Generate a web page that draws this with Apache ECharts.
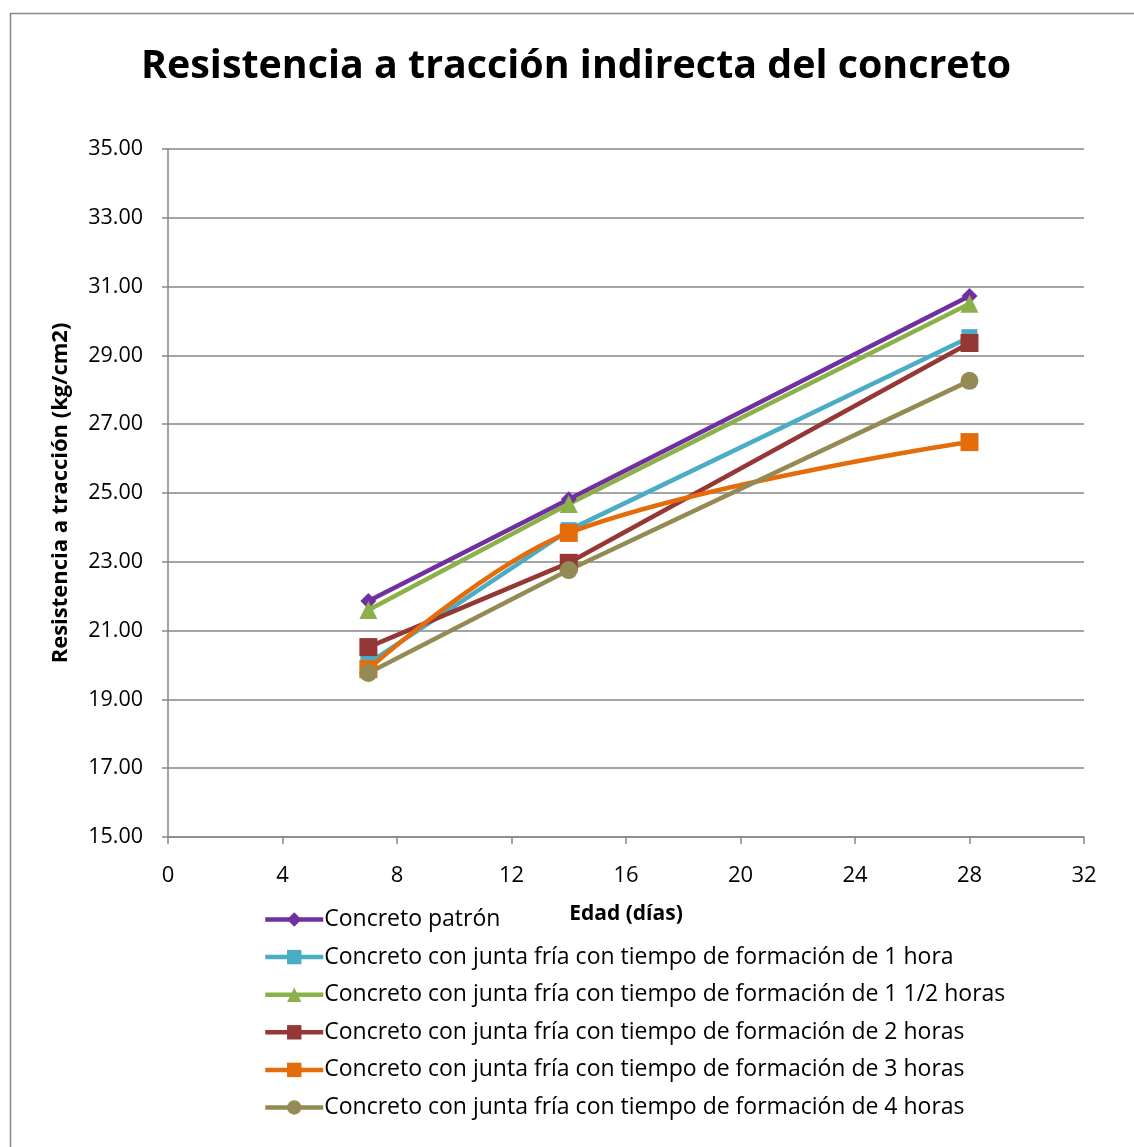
<!DOCTYPE html>
<html>
<head>
<meta charset="utf-8">
<script src="https://cdn.jsdelivr.net/npm/echarts@6/dist/echarts.min.js"></script>
<style>
  html, body { margin: 0; padding: 0; background: #fff; }
  #chart { width: 1134px; height: 1147px; }
</style>
</head>
<body>
<div id="chart"></div>
<script>
// Ages (days) at which the specimens were tested
const ages = [7, 14, 28];

// Indirect tensile strength (kg/cm2) per mix
const patron = [21.86, 24.82, 30.73];
const junta1h = [20.05, 23.92, 29.53];
const junta15h = [21.60, 24.68, 30.50];
const junta2h = [20.52, 22.97, 29.36];
const junta3h = [19.88, 23.84, 26.48];
const junta4h = [19.77, 22.76, 28.26];

const seriesNames = [
  'Concreto patrón',
  'Concreto con junta fría con tiempo de formación de 1 hora',
  'Concreto con junta fría con tiempo de formación de 1 1/2 horas',
  'Concreto con junta fría con tiempo de formación de 2 horas',
  'Concreto con junta fría con tiempo de formación de 3 horas',
  'Concreto con junta fría con tiempo de formación de 4 horas'
];

const yTicks = { min: 15, max: 35, step: 2 };
const xTicks = { min: 0, max: 32, step: 4 };

const font = 'Open Sans, Noto Sans, sans-serif';

function pairs(vals) { return ages.map((a, i) => [a, vals[i]]); }

function line(name, vals, color, symbol, size, smooth) {
  return {
    name: name,
    type: 'line',
    data: pairs(vals),
    smooth: smooth || false,
    symbol: symbol,
    symbolSize: size,
    lineStyle: { color: color, width: 4.5 },
    itemStyle: { color: color },
    z: 2
  };
}

const chart = echarts.init(document.getElementById('chart'));
chart.setOption({
  backgroundColor: '#fff',
  animation: false,
  graphic: [{
    type: 'rect',
    shape: { x: 10.5, y: 13.5, width: 1140, height: 1150 },
    style: { fill: 'none', stroke: '#888', lineWidth: 1.5 },
    silent: true
  }],
  title: {
    text: 'Resistencia a tracción indirecta del concreto',
    left: 136,
    top: 42,
    textStyle: { fontFamily: font, fontWeight: 'bold', fontSize: 39.4, color: '#000' }
  },
  grid: { left: 168, right: 50, top: 149, bottom: 310, containLabel: false },
  xAxis: {
    type: 'value',
    min: xTicks.min, max: xTicks.max, interval: xTicks.step,
    name: 'Edad (días)',
    nameLocation: 'middle',
    nameGap: 67,
    nameTextStyle: { fontFamily: font, fontWeight: 'bold', fontSize: 21, color: '#000' },
    axisLine: { show: true, lineStyle: { color: '#868686', width: 1.5 } },
    axisTick: { show: true, length: 7, lineStyle: { color: '#868686', width: 1.5 } },
    axisLabel: { fontFamily: font, fontSize: 22, color: '#000', margin: 28 },
    splitLine: { show: false }
  },
  yAxis: {
    type: 'value',
    min: yTicks.min, max: yTicks.max, interval: yTicks.step,
    name: 'Resistencia a tracción (kg/cm2)',
    nameLocation: 'middle',
    nameGap: 96,
    nameRotate: 90,
    nameTextStyle: { fontFamily: font, fontWeight: 'bold', fontSize: 22, color: '#000' },
    axisLine: { show: true, lineStyle: { color: '#868686', width: 1.5 } },
    axisTick: { show: true, length: 6, lineStyle: { color: '#868686', width: 1.5 } },
    axisLabel: { fontFamily: font, fontSize: 21.5, color: '#000', margin: 25, formatter: v => v.toFixed(2) },
    splitLine: { show: true, lineStyle: { color: '#868686', width: 1.5 } }
  },
  legend: {
    orient: 'vertical',
    left: 258,
    top: 903,
    itemWidth: 58,
    itemHeight: 18,
    itemGap: 14.6,
    lineStyle: { width: 4.5 },
    textStyle: { fontFamily: font, fontSize: 23, color: '#000', padding: [0, 0, 0, -4] },
    data: seriesNames
  },
  series: [
    line(seriesNames[0], patron, '#7030a0', 'diamond', 16),
    line(seriesNames[1], junta1h, '#4bacc6', 'rect', 16),
    line(seriesNames[2], junta15h, '#8cb04a', 'triangle', 18),
    line(seriesNames[3], junta2h, '#953735', 'rect', 18),
    line(seriesNames[4], junta3h, '#e46c0a', 'rect', 18, 0.35),
    line(seriesNames[5], junta4h, '#948a54', 'circle', 18)
  ]
});
</script>
</body>
</html>
